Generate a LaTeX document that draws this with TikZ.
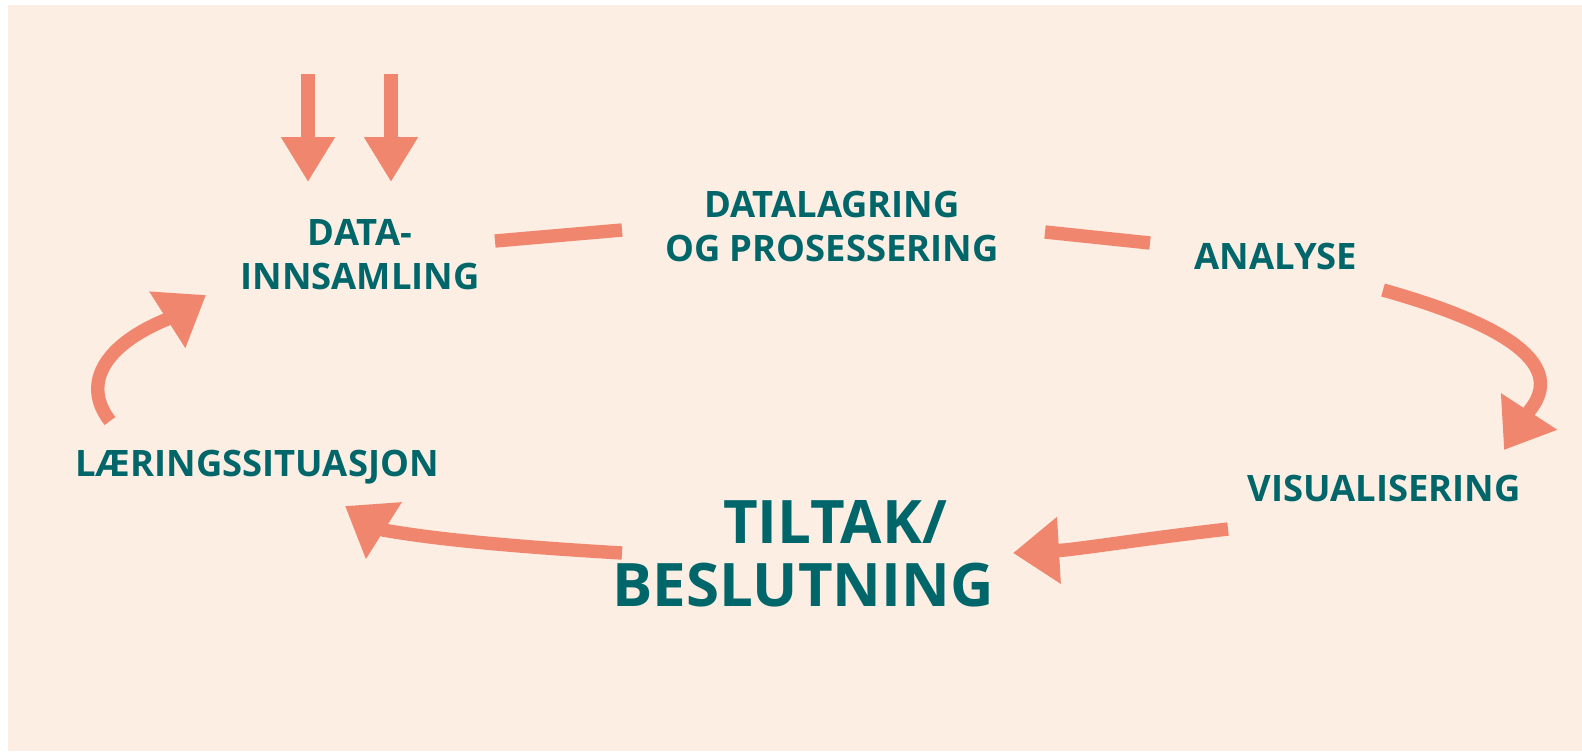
\documentclass[tikz,border=0pt]{standalone}
\usepackage{fontspec}
\setmainfont{Open Sans}
\usetikzlibrary{arrows.meta}
\definecolor{peach}{HTML}{FCEEE3}
\definecolor{salmon}{HTML}{F0866E}
\definecolor{petrol}{HTML}{00666A}

\begin{document}
\begin{tikzpicture}[x=0.5pt,y=-0.5pt,
    lbl/.style={text=petrol,font=\bfseries\fontsize{18.2}{22}\selectfont,align=center,inner sep=0pt},
    biglbl/.style={lbl,font=\bfseries\fontsize{30}{31.5}\selectfont},
    flow/.style={draw=salmon,line width=6.7pt,line join=round},
    head/.style={-{Triangle[length=23pt,width=32pt]}},
    inhead/.style={-{Triangle[length=22.5pt,width=25.5pt]}}]
        % background
        \useasboundingbox (0,0) rectangle (1582,751);
        \fill[peach] (8,5) rectangle (1582,751);
        % steps
        \node[lbl] (innsamling) at (360,255) {DATA-\\INNSAMLING};
        \node[lbl] (lagring) at (832,226) {DATALAGRING\\OG PROSESSERING};
        \node[lbl] (analyse) at (1276,256) {ANALYSE};
        \node[lbl] (visual) at (1384,488) {VISUALISERING};
        \node[biglbl] (tiltak) at (803,554) {\hspace*{32pt}TILTAK/\\BESLUTNING};
        \node[lbl] (laering) at (257,467) {LÆRINGSSITUASJON};
        % ends of the connectors
        \coordinate (in1) at (308,74);
        \coordinate (in2) at (391,74);
        \coordinate (a1) at (495,241);
        \coordinate (a2) at (622,230);
        \coordinate (b1) at (1045,232);
        \coordinate (b2) at (1150,243);
        \coordinate (c1) at (1383,290);
        \coordinate (c2) at (1504,450);
        \coordinate (d1) at (1228,529);
        \coordinate (d2) at (1013,553);
        \coordinate (e1) at (622,553);
        \coordinate (e2) at (345,506);
        \coordinate (f1) at (110,421);
        \coordinate (f2) at (206,295);
        % incoming data
        \draw[flow,inhead] (in1) -- ++(0,108);
        \draw[flow,inhead] (in2) -- ++(0,108);
        % cycle
        \draw[flow] (a1) -- (a2);
        \draw[flow] (b1) -- (b2);
        \draw[flow,head] (c1) .. controls (1490,320) and (1570,360) .. (1530,410) -- (c2);
        \draw[flow,head] (d1) .. controls (1150,538) and (1100,546) .. (1065,550) -- (d2);
        \draw[flow,head] (e1) .. controls (520,547) and (440,540) .. (383,530) -- (e2);
        \draw[flow,head] (f1) .. controls (82,385) and (102,345) .. (170,318) -- (f2);
\end{tikzpicture}
\end{document}
